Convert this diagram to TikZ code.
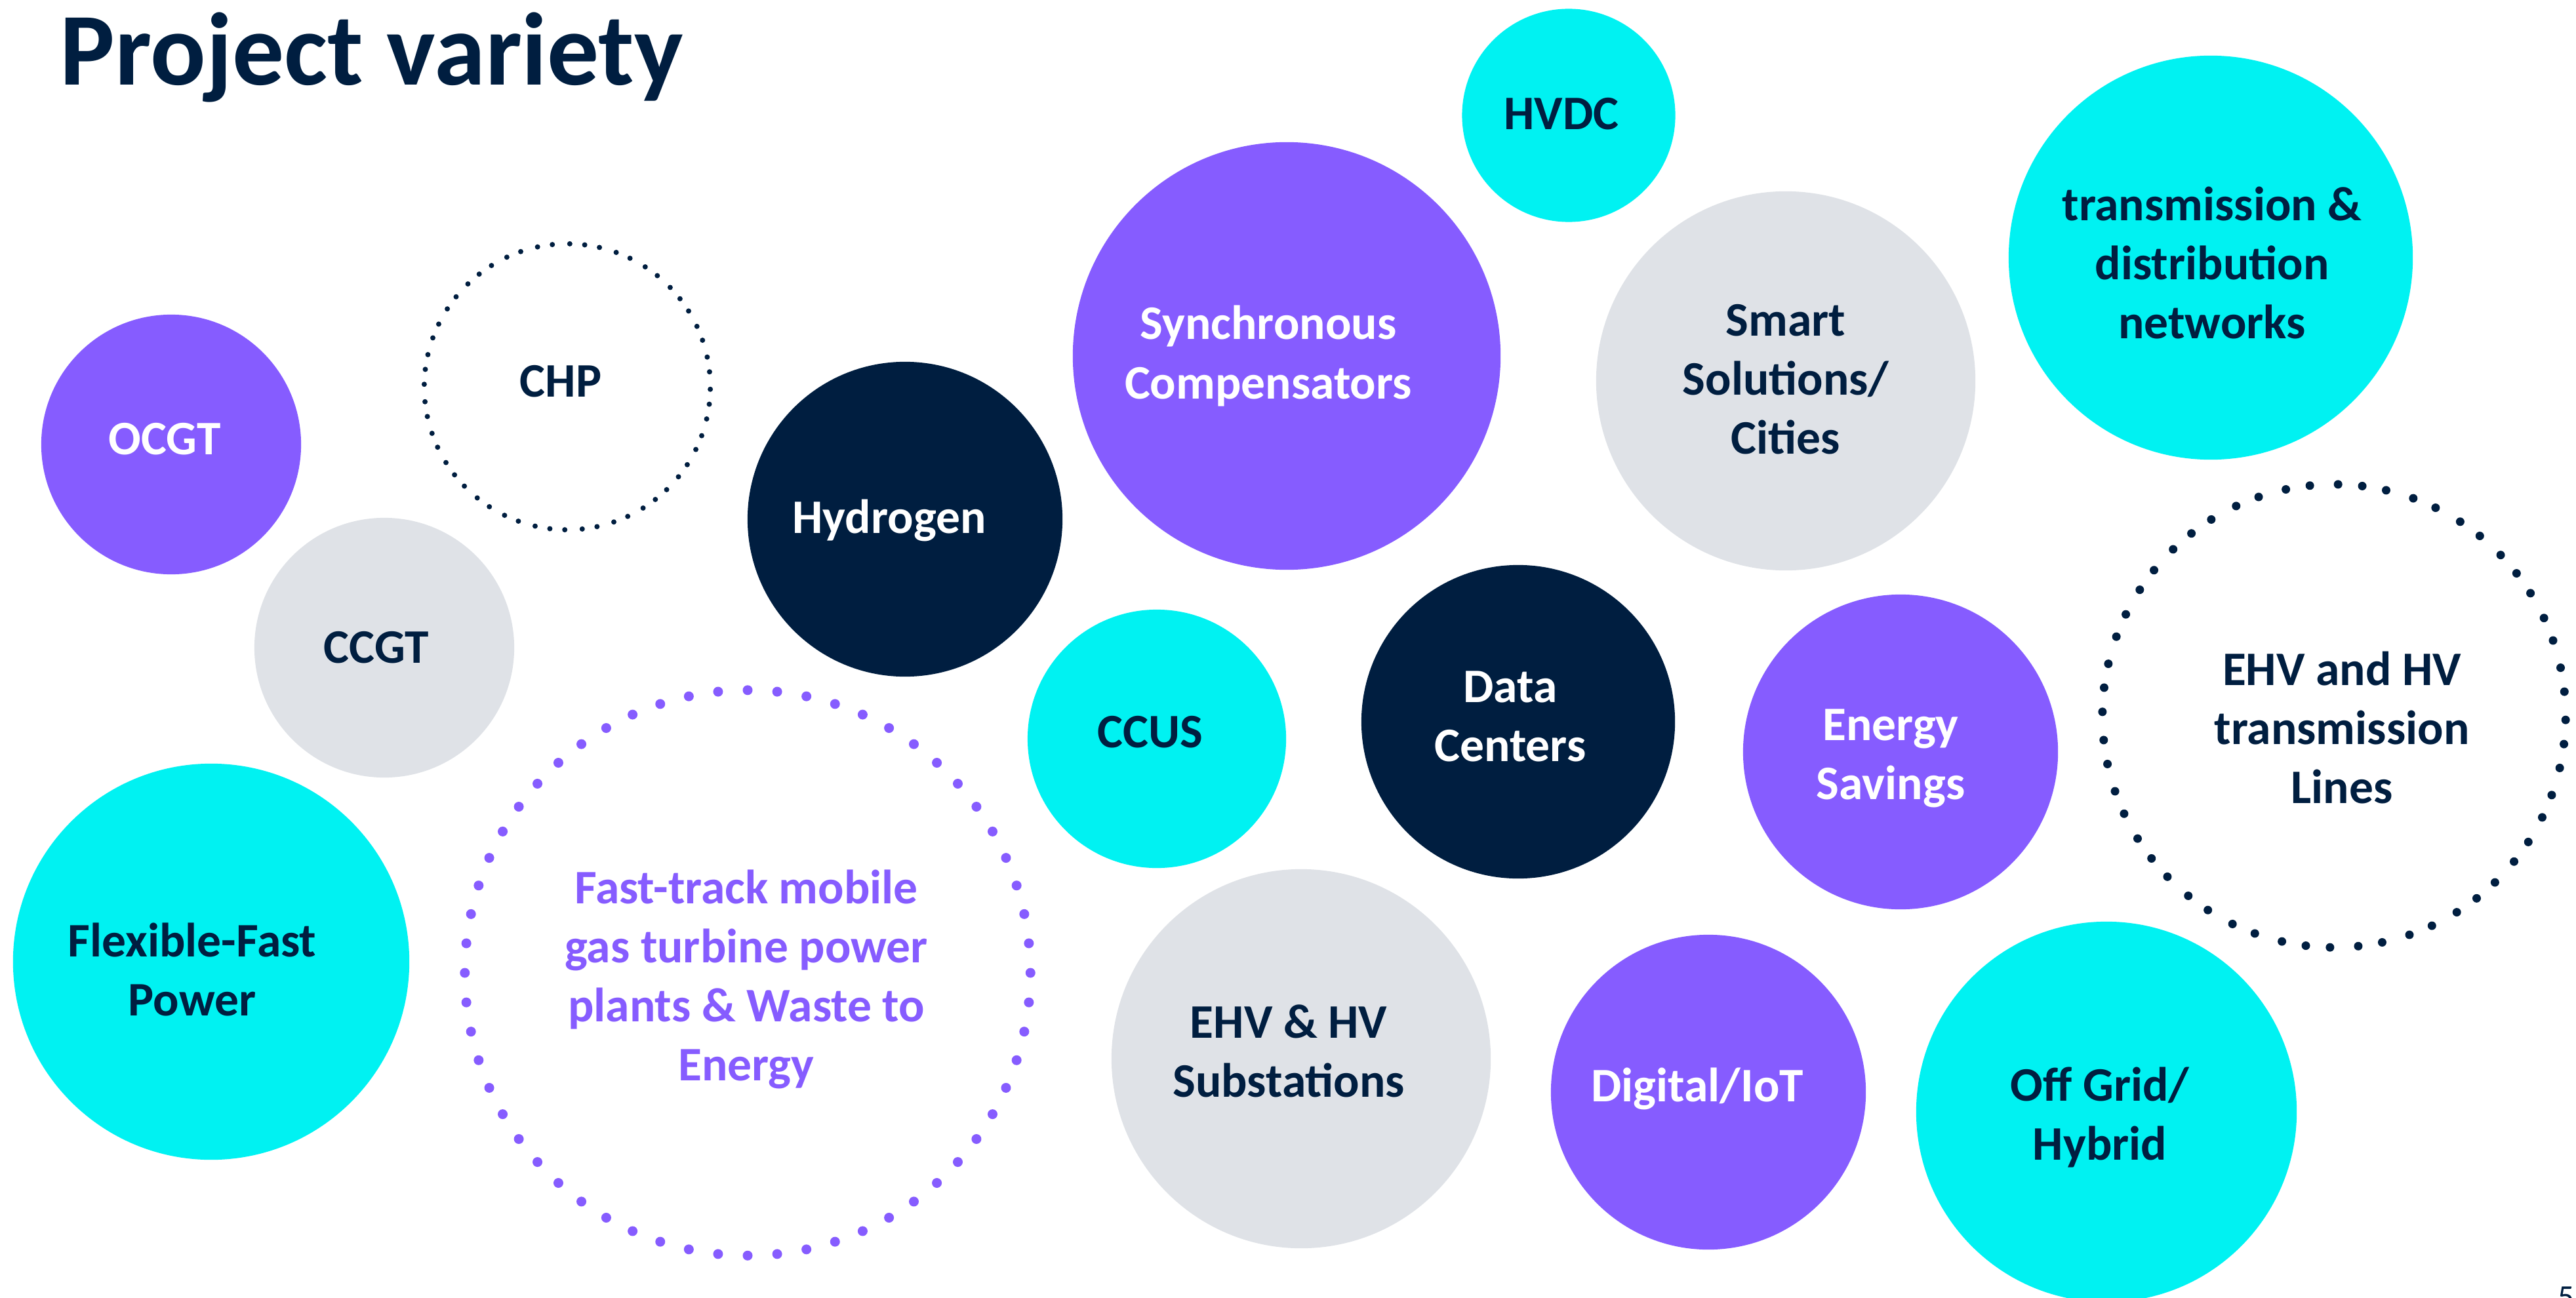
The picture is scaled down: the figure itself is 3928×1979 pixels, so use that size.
\documentclass[tikz,border=0pt]{standalone}
\usepackage{fontspec}
\setmainfont{Carlito}
\definecolor{navy}{RGB}{0,30,64}
\definecolor{violet}{RGB}{134,92,255}
\definecolor{aqua}{RGB}{0,242,242}
\definecolor{mist}{RGB}{223,226,231}
\newcommand{\lbl}{\fontsize{20.9}{25.6}\selectfont\bfseries}
\tikzset{
  bubble/.style={circle, inner sep=0pt, outer sep=0pt, fill=#1},
  ring/.style={circle, inner sep=0pt, outer sep=0pt, minimum size=#1},
  txt/.style={inner sep=0pt, align=center, font=\lbl, text=#1}
}
\begin{document}
\begin{tikzpicture}[x=0.01cm, y=-0.01cm]
        \useasboundingbox (0,0) rectangle (3928,1979);
        \node[anchor=base west, inner sep=0pt, text=navy, font=\fontsize{44.8}{53}\selectfont\bfseries] (title) at (91,130) {Project variety};
        % filled circles
        \node[bubble=violet, minimum size=3.96cm] (ocgt) at (261,678) {};
        \node[bubble=mist, minimum size=3.96cm] (ccgt) at (586,988) {};
        \node[bubble=aqua, minimum size=6.04cm] (flex) at (322,1467) {};
        \node[bubble=navy, minimum size=4.8cm] (hydrogen) at (1380,792) {};
        \node[bubble=violet, minimum size=6.52cm] (sync) at (1962,543) {};
        \node[bubble=aqua, minimum size=3.94cm] (ccus) at (1764,1127) {};
        \node[bubble=mist, minimum size=5.78cm] (subst) at (1984,1615) {};
        \node[bubble=aqua, minimum size=3.25cm] (hvdc) at (2392,176) {};
        \node[bubble=mist, minimum size=5.78cm] (smart) at (2723,581) {};
        \node[bubble=navy, minimum size=4.78cm] (datac) at (2315,1101) {};
        \node[bubble=violet, minimum size=4.8cm] (savings) at (2898,1147) {};
        \node[bubble=violet, minimum size=4.8cm] (digital) at (2605,1666) {};
        \node[bubble=aqua, minimum size=5.8cm] (offgrid) at (3212,1696) {};
        \node[bubble=aqua, minimum size=6.16cm] (tnd) at (3371,393) {};
        % dotted circles
        \node[ring=4.36cm] (chp) at (865,590) {};
        \node[ring=8.62cm] (fasttrack) at (1140,1484) {};
        \node[ring=7.06cm] (lines) at (3559,1092) {};
        \foreach \i [evaluate=\i as \a using (360/56)*\i] in {1,...,56}
          \fill[navy] (chp.\a) circle (4);
        \foreach \i [evaluate=\i as \a using (360/60)*\i] in {1,...,60}
          \fill[violet] (fasttrack.\a) circle (7.5);
        \foreach \i [evaluate=\i as \a using (360/56)*\i] in {1,...,56}
          \fill[navy] (lines.\a) circle (6.5);
        % labels
        \node[txt=white] (ocgt-t) at (251,670) {OCGT};
        \node[txt=navy] (ccgt-t) at (574,988) {CCGT};
        \node[txt=navy] (flex-t) at (293,1479) {Flexible-Fast\\Power};
        \node[txt=white] (hydrogen-t) at (1356,794) {Hydrogen};
        \node[txt=white] (sync-t) at (1934,543) {Synchronous\\Compensators};
        \node[txt=navy] (ccus-t) at (1754,1117) {CCUS};
        \node[txt=navy] (subst-t) at (1965,1603) {EHV \& HV\\Substations};
        \node[txt=navy] (hvdc-t) at (2381,174) {HVDC};
        \node[txt=navy] (smart-t) at (2723,579) {Smart\\Solutions/\\Cities};
        \node[txt=white] (datac-t) at (2303,1093) {Data\\Centers};
        \node[txt=white] (savings-t) at (2883,1157) {Energy\\Savings};
        \node[txt=white] (digital-t) at (2588,1661) {Digital/IoT};
        \node[txt=navy] (offgrid-t) at (3202,1704) {Off Grid/\\Hybrid};
        \node[txt=navy] (tnd-t) at (3373,401) {transmission \&\\distribution\\networks};
        \node[txt=navy] (chp-t) at (855,582) {CHP};
        \node[txt=violet] (fasttrack-t) at (1138,1494) {Fast-track mobile\\gas turbine power\\plants \& Waste to\\Energy};
        \node[txt=navy] (lines-t) at (3571,1110) {EHV and HV\\transmission\\Lines};
        \node[anchor=north west, inner sep=0pt, text=navy, font=\fontsize{14}{17}\selectfont] (pagenum) at (3900,1962) {5};
      \end{tikzpicture}
\end{document}
